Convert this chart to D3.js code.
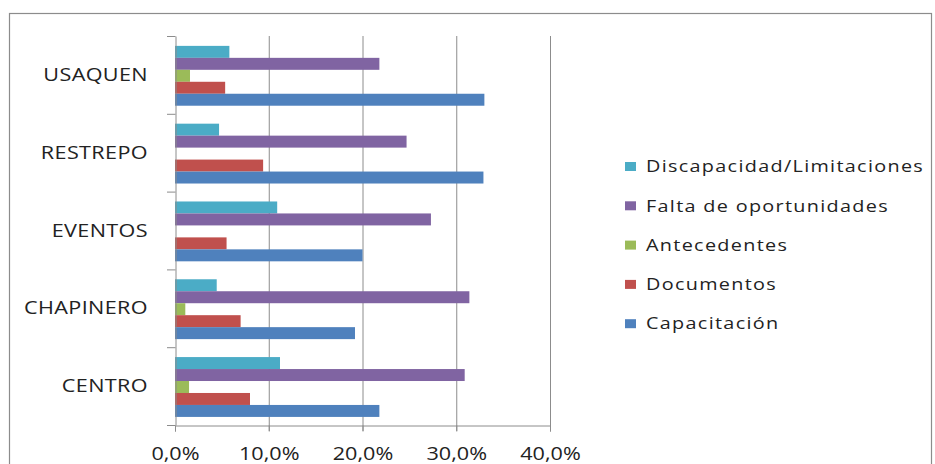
<!DOCTYPE html>
<html>
<head>
<meta charset="utf-8">
<script src="https://cdn.jsdelivr.net/npm/d3@7"></script>
<style>
  body { margin: 0; background: #fff; }
  text { font-family: "Open Sans", "Noto Sans", sans-serif; fill: #222; }
</style>
</head>
<body>
<svg id="chart" width="935" height="464"></svg>
<script>
var categories = ["USAQUEN", "RESTREPO", "EVENTOS", "CHAPINERO", "CENTRO"];
var series = ["Discapacidad/Limitaciones", "Falta de oportunidades", "Antecedentes", "Documentos", "Capacitación"];
var colors = ["#4BACC6", "#8064A2", "#9BBB59", "#C0504D", "#4F81BD"];

// values in %, one array per series, in category order
var discapacidad = [5.8, 4.7, 10.9, 4.45, 11.2];
var falta        = [21.8, 24.7, 27.3, 31.4, 30.9];
var antecedentes = [1.6, 0, 0, 1.1, 1.5];
var documentos   = [5.35, 9.4, 5.5, 7.0, 8.0];
var capacitacion = [33.0, 32.9, 20.0, 19.2, 21.8];
var xTicks = [0, 10, 20, 30, 40];

var values = [discapacidad, falta, antecedentes, documentos, capacitacion];

var svg = d3.select("#chart");
var plot = {left: 175, right: 550, top: 36, bottom: 425};
var stretch = "scale(1.2,1)";   // the source picture is stretched sideways

// chart border
svg.append("rect")
  .attr("x", 9.5).attr("y", 13.5)
  .attr("width", 922).attr("height", 470)
  .attr("fill", "none").attr("stroke", "#8c8c8c").attr("stroke-width", 1.2);

var x = d3.scaleLinear().domain([0, 40]).range([plot.left, plot.right]);
var y = d3.scaleBand().domain(categories).range([plot.top, plot.bottom]);
var yInner = d3.scaleBand().domain(series).range([0, y.bandwidth()])
  .paddingOuter(0.75).align(0.55);

// gridlines
svg.append("g").selectAll("line")
  .data(xTicks.slice(1))
  .enter().append("line")
    .attr("x1", function(d){ return x(d) + 0.5; })
    .attr("x2", function(d){ return x(d) + 0.5; })
    .attr("y1", plot.top).attr("y2", plot.bottom + 6)
    .attr("stroke", "#8c8c8c").attr("stroke-width", 1);

// bars
var rows = [];
categories.forEach(function(c, i){
  series.forEach(function(s, j){
    rows.push({cat: c, ser: s, val: values[j][i], color: colors[j]});
  });
});

svg.append("g").selectAll("rect")
  .data(rows.filter(function(d){ return d.val > 0; }))
  .enter().append("rect")
    .attr("x", x(0))
    .attr("y", function(d){ return y(d.cat) + yInner(d.ser); })
    .attr("width", function(d){ return x(d.val) - x(0); })
    .attr("height", yInner.bandwidth())
    .attr("fill", function(d){ return d.color; });

// y axis
var yAxis = d3.axisLeft(y).tickSize(0).tickPadding(23);
var yg = svg.append("g")
  .attr("transform", "translate(" + (plot.left + 0.5) + ",0)")
  .call(yAxis);
yg.select(".domain").attr("stroke", "#8c8c8c");
yg.selectAll("text")
  .attr("x", -23).attr("dy", "0.34em")
  .attr("transform", stretch)
  .style("font-size", "18px").style("letter-spacing", "0.3px").attr("fill", "#222");

// category separators
svg.append("g").selectAll("line")
  .data(d3.range(categories.length + 1))
  .enter().append("line")
    .attr("x1", plot.left - 8).attr("x2", plot.left + 0.5)
    .attr("y1", function(i){ return plot.top + i * y.step() + 0.5; })
    .attr("y2", function(i){ return plot.top + i * y.step() + 0.5; })
    .attr("stroke", "#8c8c8c");

// x axis
var xAxis = d3.axisBottom(x).tickValues(xTicks).tickSize(6).tickPadding(16)
  .tickFormat(function(d){ return d.toFixed(1).replace(".", ",") + "%"; });
var xg = svg.append("g")
  .attr("transform", "translate(0," + (plot.bottom + 0.5) + ")")
  .call(xAxis);
xg.select(".domain").attr("stroke", "#8c8c8c");
xg.selectAll(".tick line").attr("stroke", "#8c8c8c");
xg.selectAll("text")
  .attr("transform", stretch)
  .style("font-size", "18px").attr("fill", "#222");

// legend
var legend = svg.append("g").selectAll("g")
  .data(series)
  .enter().append("g")
    .attr("transform", function(d, i){ return "translate(625," + (166.5 + i * 39.3) + ")"; });
legend.append("rect")
  .attr("x", 0).attr("y", -4.5).attr("width", 11).attr("height", 9)
  .attr("fill", function(d, i){ return colors[i]; });
legend.append("text")
  .attr("dy", "0.35em")
  .attr("transform", "translate(21,0) " + stretch)
  .style("font-size", "16.5px").style("letter-spacing", "1.1px")
  .text(function(d){ return d; });
</script>
</body>
</html>
